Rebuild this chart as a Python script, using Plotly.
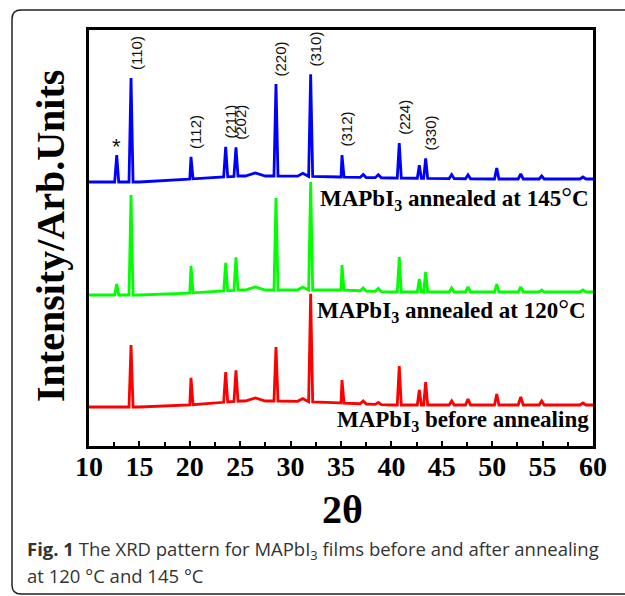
import numpy as np
import plotly.graph_objects as go

# ---------------- data ----------------
# peak positions (2θ, degrees)
peak_pos = [12.75, 14.17, 20.12, 23.56, 24.58, 26.5, 28.55, 31.2, 31.99, 35.10,
            37.2, 38.7, 40.78, 42.77, 43.40, 45.98, 47.60, 50.45, 52.83, 54.91, 59.0]
# peak widths (half base, degrees) – broad for the amorphous humps
peak_halfwidth = [0.2, 0.2, 0.2, 0.2, 0.2, 1.0, 0.2, 0.5, 0.2, 0.2,
                  0.3, 0.3, 0.2, 0.2, 0.2, 0.25, 0.25, 0.22, 0.25, 0.25, 0.3]

# peak intensities above background (arb. units)
blue_145 = [27, 104, 22, 30, 29, 3, 92, 3, 102, 22, 3, 3, 35, 13, 20, 4, 4, 11, 5, 3, 2]
green_120 = [11, 100, 27, 28, 33, 3, 92, 3, 108, 25, 3, 3, 35, 13, 20, 4, 5, 8, 5, 2, 2]
red_before = [0, 62, 27, 30, 31, 3, 54, 3, 108, 23, 3, 2, 39, 15, 23, 4, 6, 11, 8, 4, 2]

# background level of each stacked pattern (arb. units, includes stacking offset)
bg_x = [10, 15, 20, 25, 30, 35, 40, 50, 60]
bg_blue = [264, 264, 267, 270, 270, 269, 268, 267, 267]
bg_green = [151, 151, 153, 156, 156, 156, 154, 154, 154]
bg_red = [39, 39, 41, 45, 45, 43, 41, 41, 41]

series_names = ["MAPbI3 annealed at 145°C", "MAPbI3 annealed at 120°C", "MAPbI3 before annealing"]

# Miller-index labels of the 145 °C pattern
hkl_labels = ["(110)", "(112)", "(211)", "(202)", "(220)", "(310)", "(312)", "(224)", "(330)"]
hkl_peaks = [14.17, 20.12, 23.56, 24.58, 28.55, 31.99, 35.10, 40.78, 43.40]
star_peak = 12.75

x_ticks = [10, 15, 20, 25, 30, 35, 40, 45, 50, 55, 60]


def pattern(heights, bg):
    xs = list(bg_x)
    for p, w in zip(peak_pos, peak_halfwidth):
        xs += [p - w, p, p + w]
    xs = np.array(sorted(set(xs)))
    ys = np.interp(xs, bg_x, bg)
    for p, w, h in zip(peak_pos, peak_halfwidth, heights):
        idx = np.where(np.isclose(xs, p))[0]
        ys[idx] += h
    return xs, ys


# ---------------- figure ----------------
L, R, T, B = 89, 593, 30, 446
W, H = 625, 596
Y_MAX = 416


def px(xp):
    return (xp - L) / (R - L)


def py(yp):
    return (B - yp) / (B - T)


fig = go.Figure()
for heights, bg, col, name in [(red_before, bg_red, "#ff0000", series_names[2]),
                               (green_120, bg_green, "#00ff00", series_names[1]),
                               (blue_145, bg_blue, "#0000ff", series_names[0])]:
    xs, ys = pattern(heights, bg)
    fig.add_trace(go.Scatter(x=xs, y=ys, mode="lines", name=name,
                             line=dict(color=col, width=2.8), showlegend=False,
                             hoverinfo="skip"))

serif = "Liberation Serif"
annotations = []

# hkl labels
xs_b, ys_b = pattern(blue_145, bg_blue)
for lab, p in zip(hkl_labels, hkl_peaks):
    top = ys_b[np.where(np.isclose(xs_b, p))[0][0]]
    annotations.append(dict(x=p, y=top, xref="x", yref="y", text=lab, textangle=-90,
                            showarrow=False, xanchor="center", yanchor="bottom",
                            xshift=5, yshift=6,
                            font=dict(family="Liberation Sans", size=15, color="#111")))
top_star = ys_b[np.where(np.isclose(xs_b, star_peak))[0][0]]
annotations.append(dict(x=star_peak, y=top_star, xref="x", yref="y", text="*",
                        showarrow=False, xanchor="center", yanchor="bottom", yshift=-6,
                        font=dict(family="Liberation Sans", size=22, color="#111")))

deg = '<span style="font-weight:normal;font-size:27px">°</span>'
series_label_y = [198, 310, 421]
series_label_right = [591, 588, 591]
series_texts = ["MAPbI<sub>3</sub> annealed at 145" + deg + "C",
                "MAPbI<sub>3</sub> annealed at 120" + deg + "C",
                "MAPbI<sub>3</sub> before annealing"]
for t, yy, xr in zip(series_texts, series_label_y, series_label_right):
    annotations.append(dict(x=px(xr), y=py(yy), xref="paper", yref="paper", text="<b>" + t + "</b>",
                            showarrow=False, xanchor="right", yanchor="middle",
                            font=dict(family=serif, size=23, color="black")))

# axis titles
annotations.append(dict(x=px(50), y=py(236), xref="paper", yref="paper",
                        text="<b>Intensity/Arb.Units</b>", textangle=-90, showarrow=False,
                        xanchor="center", yanchor="middle",
                        font=dict(family=serif, size=40, color="black")))
annotations.append(dict(x=px(342), y=py(510), xref="paper", yref="paper",
                        text="<b>2θ</b>", showarrow=False, xanchor="center", yanchor="middle",
                        font=dict(family=serif, size=40, color="black")))

# caption
cap_font = dict(family="Open Sans", size=18.5, color="#333333")
annotations.append(dict(x=px(25), y=py(550), xref="paper", yref="paper",
                        text="<b>Fig. 1</b> The XRD pattern for MAPbI<sub>3</sub> films before and after annealing",
                        showarrow=False, xanchor="left", yanchor="middle", font=cap_font))
annotations.append(dict(x=px(25), y=py(575), xref="paper", yref="paper",
                        text="at 120 °C and 145 °C",
                        showarrow=False, xanchor="left", yanchor="middle", font=cap_font))

# outer rounded frame of the figure panel
x0, x1, y0, y1, r = px(12), px(640), py(10), py(594), 9
rx, ry = r / (R - L), r / (B - T)
path = (f"M {x1},{y1} L {x0 + rx},{y1} Q {x0},{y1} {x0},{y1 + ry} "
        f"L {x0},{y0 - ry} Q {x0},{y0} {x0 + rx},{y0} L {x1},{y0}")
shapes = [dict(type="path", xref="paper", yref="paper", path=path,
               line=dict(color="#222222", width=1.5))]

fig.update_layout(
    width=W, height=H,
    margin=dict(l=L, r=W - R, t=T, b=H - B),
    paper_bgcolor="white", plot_bgcolor="white",
    annotations=annotations, shapes=shapes,
    xaxis=dict(range=[10, 60], tickvals=x_ticks, ticktext=[str(v) for v in x_ticks],
               ticks="inside", ticklen=5, tickwidth=2, tickcolor="black",
               ticklabelstandoff=-7,
               minor=dict(ticks="inside", ticklen=4, tickwidth=2, dtick=2.5, tick0=10,
                          tickcolor="black"),
               showline=True, linecolor="black", linewidth=3, mirror=True,
               showgrid=False, zeroline=False,
               tickfont=dict(family=serif, size=28, color="black", weight="bold")),
    yaxis=dict(range=[0, Y_MAX], showticklabels=False, ticks="",
               showline=True, linecolor="black", linewidth=3, mirror=True,
               showgrid=False, zeroline=False),
)

fig.write_html("out.html", config={"displayModeBar": False},
               post_script="document.body.style.margin='0';document.body.style.overflow='hidden';")
